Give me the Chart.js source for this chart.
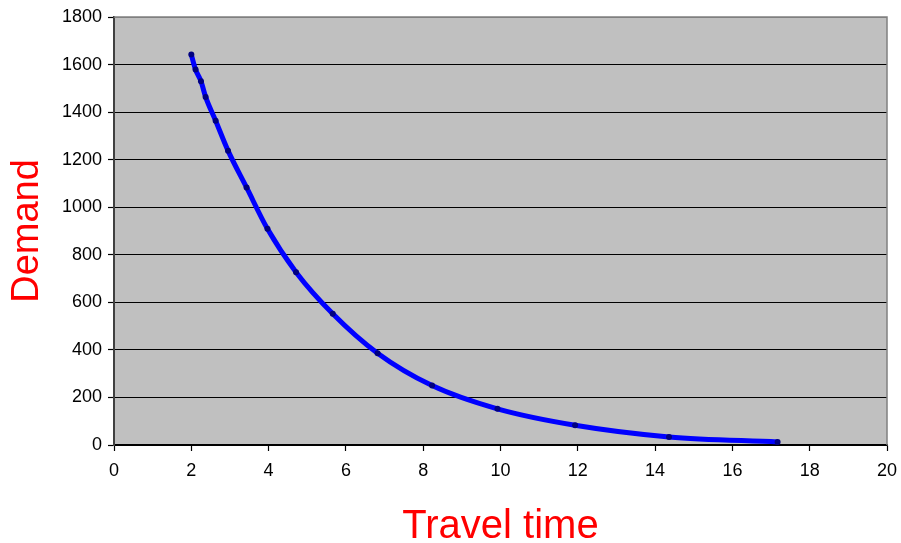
<!DOCTYPE html>
<html>
<head>
<meta charset="utf-8">
<script src="https://cdn.jsdelivr.net/npm/chart.js@4/dist/chart.umd.min.js"></script>
<style>
  html, body { margin: 0; padding: 0; background: #ffffff; }
  #wrap { width: 901px; height: 543px; }
</style>
</head>
<body>
<div id="wrap"><canvas id="c" width="901" height="543"></canvas></div>
<script>
// Data
const travelTime = [2.00, 2.11, 2.25, 2.37, 2.63, 2.95, 3.43, 3.97, 4.71, 5.66, 6.82, 8.23, 9.92, 11.93, 14.36, 17.17];
const demand     = [1642, 1579, 1530, 1464, 1364, 1238, 1083, 909, 727, 552, 386, 250, 152, 83, 34, 13];
const xTicks = [0, 2, 4, 6, 8, 10, 12, 14, 16, 18, 20];
const yTicks = [0, 200, 400, 600, 800, 1000, 1200, 1400, 1600, 1800];
const xTitle = 'Travel time';
const yTitle = 'Demand';

const points = travelTime.map((x, i) => ({ x: x, y: demand[i] }));

const plotBg = {
  id: 'plotBg',
  beforeDraw(chart) {
    const { ctx, chartArea: a } = chart;
    ctx.save();
    ctx.fillStyle = '#C0C0C0';
    ctx.fillRect(a.left, a.top, a.right - a.left, a.bottom - a.top);
    ctx.restore();
  },
  beforeDatasetsDraw(chart) {
    const { ctx, chartArea: a } = chart;
    ctx.save();
    ctx.strokeStyle = '#808080';
    ctx.lineWidth = 1.5;
    ctx.beginPath();
    ctx.moveTo(a.left, a.top);
    ctx.lineTo(a.right, a.top);
    ctx.lineTo(a.right, a.bottom);
    ctx.stroke();
    ctx.restore();
  }
};

const font = { family: "'Liberation Sans', Arial, sans-serif", size: 18 };

new Chart(document.getElementById('c'), {
  type: 'scatter',
  data: {
    datasets: [{
      data: points,
      showLine: true,
      borderColor: '#0000FF',
      borderWidth: 5,
      cubicInterpolationMode: 'monotone',
      pointRadius: 3,
      pointBorderWidth: 0,
      pointBackgroundColor: '#000080',
      pointHoverRadius: 3
    }]
  },
  options: {
    responsive: false,
    animation: false,
    events: [],
    layout: { padding: { top: 17, right: 14, left: 0, bottom: 0 } },
    plugins: { legend: { display: false }, tooltip: { enabled: false } },
    scales: {
      x: {
        type: 'linear',
        min: 0, max: 20,
        afterBuildTicks(scale) { scale.ticks = xTicks.map(v => ({ value: v })); },
        afterFit(scale) { scale.height = 98; scale.paddingLeft = 0; scale.paddingRight = 0; },
        grid: { drawOnChartArea: false, drawTicks: true, tickLength: 6, tickColor: '#000000', tickWidth: 1.2 },
        border: { color: '#000000', width: 1.5 },
        ticks: { color: '#000000', font: font, padding: 9, maxRotation: 0, callback: (v) => String(v) },
        title: { display: true, text: xTitle, color: '#FF0000',
                 font: { family: "'Liberation Sans', Arial, sans-serif", size: 40 }, padding: { top: 0, bottom: -8 } }
      },
      y: {
        type: 'linear',
        min: 0, max: 1800,
        afterBuildTicks(scale) { scale.ticks = yTicks.map(v => ({ value: v })); },
        afterFit(scale) { scale.width = 114; scale.paddingTop = 0; scale.paddingBottom = 0; },
        grid: {
          drawOnChartArea: true, drawTicks: true, tickLength: 6,
          color: (c) => (c.tick && c.tick.value === 1800) ? '#808080' : '#000000',
          lineWidth: 1, tickColor: '#000000', tickWidth: 1.2
        },
        border: { color: '#404040', width: 2 },
        ticks: { color: '#000000', font: font, padding: 6, callback: (v) => String(v) },
        title: { display: true, text: yTitle, color: '#FF0000',
                 font: { family: "'Liberation Sans', Arial, sans-serif", size: 38 }, padding: { top: 5, bottom: 0 } }
      }
    }
  },
  plugins: [plotBg]
});
</script>
</body>
</html>
